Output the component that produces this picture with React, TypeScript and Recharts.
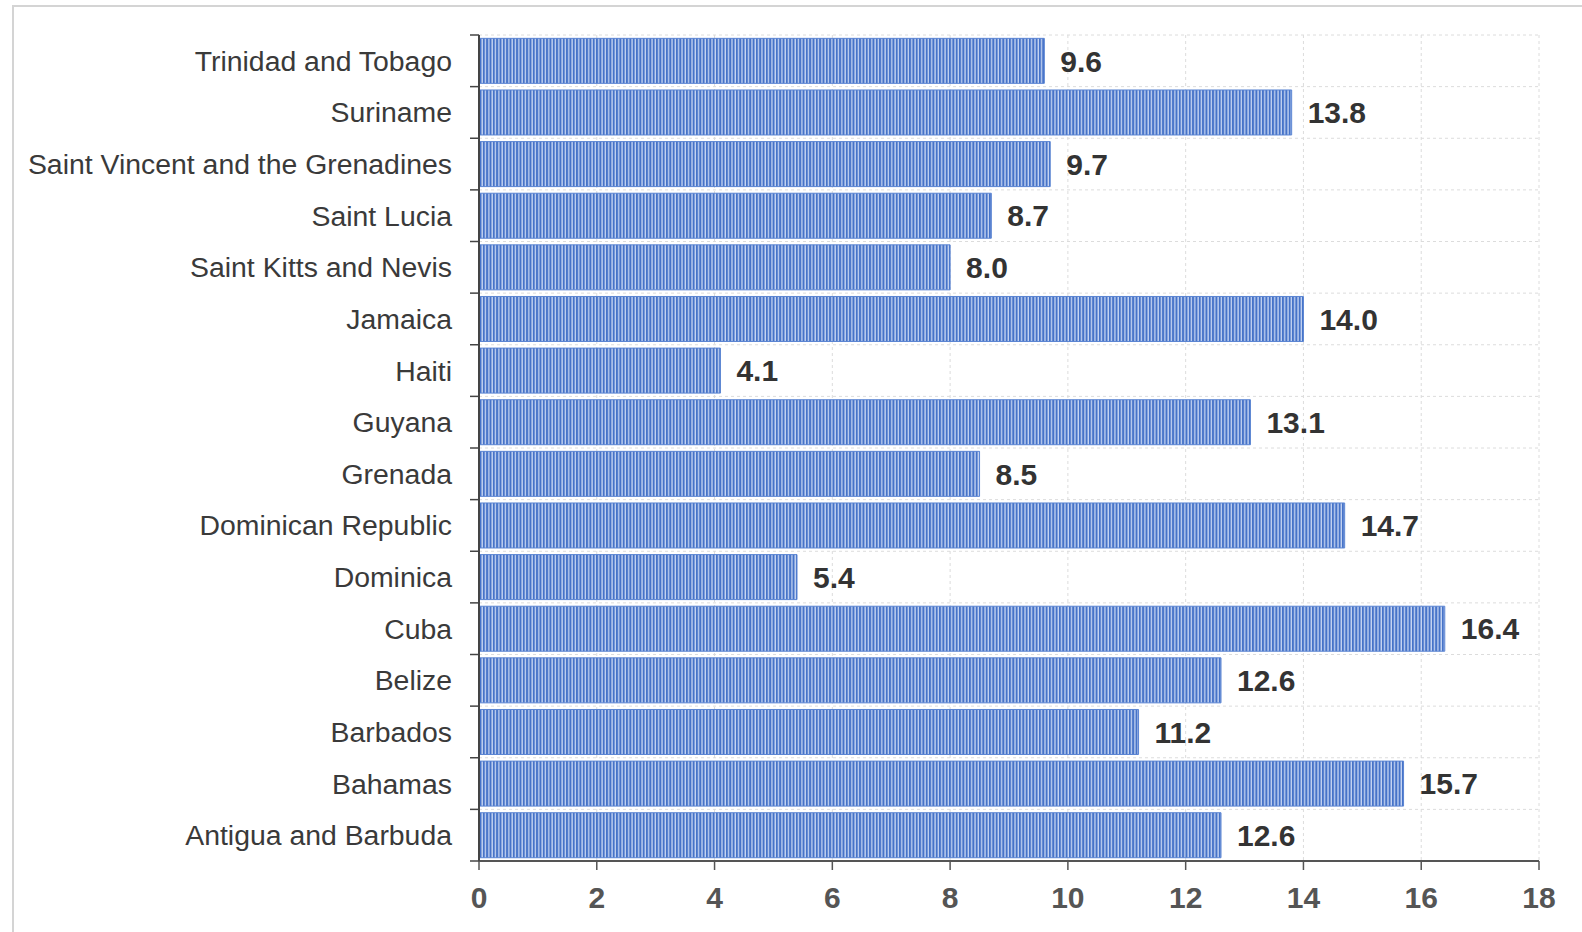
import { BarChart, Bar, XAxis, YAxis, CartesianGrid, LabelList } from "recharts";

const countries = [
  "Trinidad and Tobago",
  "Suriname",
  "Saint Vincent and the Grenadines",
  "Saint Lucia",
  "Saint Kitts and Nevis",
  "Jamaica",
  "Haiti",
  "Guyana",
  "Grenada",
  "Dominican Republic",
  "Dominica",
  "Cuba",
  "Belize",
  "Barbados",
  "Bahamas",
  "Antigua and Barbuda",
];

const values = [9.6, 13.8, 9.7, 8.7, 8.0, 14.0, 4.1, 13.1, 8.5, 14.7, 5.4, 16.4, 12.6, 11.2, 15.7, 12.6];

const xTicks = [0, 2, 4, 6, 8, 10, 12, 14, 16, 18];

const data = countries.map((name, i) => ({ name, value: values[i] }));

const FONT = '"Liberation Sans", Arial, Helvetica, sans-serif';
const W = 1582;
const H = 932;
const PLOT_LEFT = 479;
const PLOT_TOP = 35;
const PLOT_BOTTOM = 861;
const BAND = (PLOT_BOTTOM - PLOT_TOP) / countries.length;

// category label + small tick mark at the band boundary (Chart.js style)
function CountryTick(props: any) {
  const { x, y, payload, index } = props;
  const top = y - BAND / 2;
  return (
    <g>
      <line x1={PLOT_LEFT - 9} x2={PLOT_LEFT} y1={top} y2={top} stroke="#444" strokeWidth={1.5} />
      {index === countries.length - 1 && (
        <line x1={PLOT_LEFT - 9} x2={PLOT_LEFT} y1={top + BAND} y2={top + BAND} stroke="#444" strokeWidth={1.5} />
      )}
      <text x={x} y={y} textAnchor="end" dominantBaseline="central" fontSize={28.4} fill="#3a3a3a" fontFamily={FONT}>
        {payload.value}
      </text>
    </g>
  );
}

export default function App() {
  return (
    <div style={{ position: "relative", width: W, height: H, overflow: "hidden" }}>
      <style>{"body{margin:0;overflow:hidden}"}</style>
      <div
        style={{
          position: "absolute",
          left: 12,
          top: 5,
          width: 1700,
          height: 1000,
          border: "2px solid #d4d4d4",
          boxSizing: "border-box",
        }}
      />
      <div style={{ position: "absolute", left: 0, top: 0 }}>
        <BarChart
          width={W}
          height={H}
          data={data}
          layout="vertical"
          margin={{ top: PLOT_TOP, right: W - 1539, bottom: 11, left: 0 }}
          barCategoryGap="6.5%"
        >
          <defs>
            <pattern id="stripes" patternUnits="userSpaceOnUse" width={3.33} height={10}>
              <rect x={0} y={0} width={3.33} height={10} fill="#c6d5f2" />
              <rect x={0} y={0} width={2} height={10} fill="#4673c8" />
            </pattern>
          </defs>
          <CartesianGrid
            stroke="#dcdcdc"
            strokeDasharray="3 3"
            horizontalCoordinatesGenerator={({ offset }: any) =>
              countries.map((_, i) => offset.top + (i * offset.height) / countries.length).concat([offset.top + offset.height])
            }
          />
          <XAxis
            type="number"
            domain={[0, 18]}
            ticks={xTicks}
            height={60}
            tickSize={9}
            tickMargin={17}
            axisLine={{ stroke: "#555", strokeWidth: 2 }}
            tickLine={{ stroke: "#555", strokeWidth: 1.5 }}
            tick={{ fontSize: 30, fontWeight: 700, fill: "#555", fontFamily: FONT }}
            interval={0}
          />
          <YAxis
            type="category"
            dataKey="name"
            width={PLOT_LEFT}
            tickSize={9}
            tickMargin={18}
            tickLine={false}
            axisLine={{ stroke: "#444", strokeWidth: 2 }}
            tick={<CountryTick />}
            interval={0}
          />
          <Bar dataKey="value" fill="url(#stripes)" stroke="#5a84d2" strokeWidth={1} isAnimationActive={false}>
            <LabelList
              dataKey="value"
              position="right"
              offset={16}
              formatter={(v: any) => Number(v).toFixed(1)}
              style={{ fontSize: 30, fontWeight: 700, fill: "#333", fontFamily: FONT }}
            />
          </Bar>
        </BarChart>
      </div>
    </div>
  );
}
